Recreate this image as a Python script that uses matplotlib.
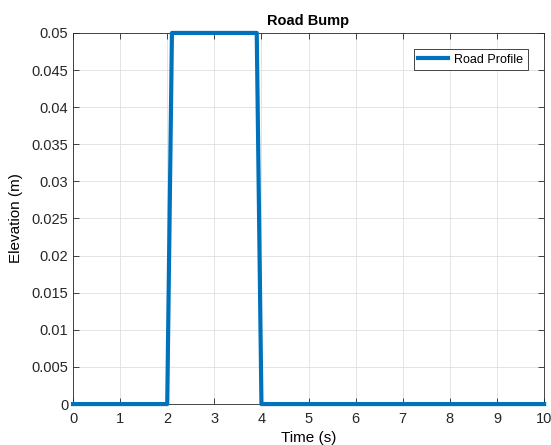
import numpy as np
import matplotlib.pyplot as plt

plt.rcParams['font.family'] = ['Liberation Sans', 'DejaVu Sans']

# road bump profile
time_s = [0, 2.0, 2.1, 3.9, 4.0, 10]
elevation_m = [0, 0, 0.05, 0.05, 0, 0]

xticks = np.arange(0, 11, 1)
yticks = np.arange(0, 0.0501, 0.005)
ytick_labels = ['0', '0.005', '0.01', '0.015', '0.02', '0.025',
                '0.03', '0.035', '0.04', '0.045', '0.05']

fig = plt.figure(figsize=(5.51, 4.45), dpi=100)
ax = fig.add_axes([0.1325, 0.092, 0.855, 0.834])

ax.plot(time_s, elevation_m, color='#0072BD', linewidth=3,
        label='Road Profile', clip_on=False, zorder=3)

ax.set_xlim(0, 10)
ax.set_ylim(0, 0.05)
ax.set_xticks(xticks)
ax.set_yticks(yticks)
ax.set_yticklabels(ytick_labels)
ax.tick_params(direction='in', top=True, right=True, labelsize=10.5,
               colors='#262626', length=4, width=0.6)
ax.tick_params(axis='x', pad=6)
ax.grid(True, color='#dfdfdf', linewidth=0.6)
ax.set_axisbelow(True)
for s in ax.spines.values():
    s.set_color('#262626')
    s.set_linewidth(0.6)

ax.set_title('Road Bump', fontsize=10.5, fontweight='bold', pad=6)
ax.set_xlabel('Time (s)', fontsize=11, labelpad=3)
ax.set_ylabel('Elevation (m)', fontsize=11, labelpad=6)

leg = ax.legend(loc='upper right', fontsize=9, fancybox=False,
                edgecolor='#262626', framealpha=1, handlelength=2.4,
                borderaxespad=1.3, borderpad=0.35, handletextpad=0.5)
leg.get_frame().set_linewidth(0.6)

fig.savefig('out.png', dpi=100)
